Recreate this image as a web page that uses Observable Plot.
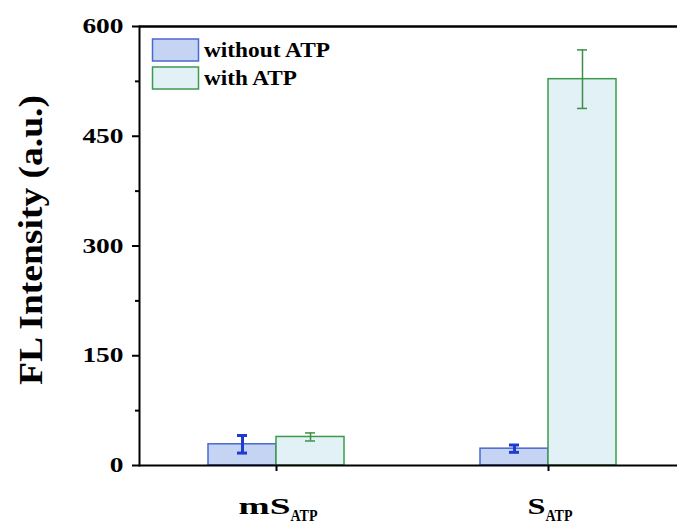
<!DOCTYPE html>
<html><head><meta charset="utf-8">
<style>body{margin:0;background:#fff} svg{display:block}</style>
<script src="https://cdn.jsdelivr.net/npm/d3@7"></script>
<script src="https://cdn.jsdelivr.net/npm/@observablehq/plot@0.6"></script>
</head><body><div id="chart"></div>
<script>
const groups = ["mS", "S"];
const groupSub = ["ATP", "ATP"];
const series = ["without ATP", "with ATP"];
const withoutATP = [29, 23];
const withoutATPErr = [12, 5];
const withATP = [39, 528];
const withATPErr = [5.5, 40];
const yTicks = [0, 150, 300, 450, 600];
const yMinor = [75, 225, 375, 525];
const yLabel = "FL Intensity (a.u.)";

const blueData = groups.map((g, i) => ({group: g, series: series[0], value: withoutATP[i], err: withoutATPErr[i]}));
const greenData = groups.map((g, i) => ({group: g, series: series[1], value: withATP[i], err: withATPErr[i]}));

const FONT = "'Liberation Serif', 'Times New Roman', serif";
const blueFill = "#c6d4f4", blueStroke = "#4a68d0", blueErr = "#1f3ccf";
const greenFill = "#e1f1f5", greenStroke = "#3d9a4b", greenErr = "#3d8f48";

const chart = Plot.plot({
  width: 677, height: 524,
  marginTop: 26, marginBottom: 59, marginLeft: 139, marginRight: 0,
  x: {type: "band", domain: groups, range: [140, 684], padding: 0, axis: null, label: null},
  y: {domain: [0, 600], axis: null, label: null},
  style: {fontFamily: FONT, fontWeight: "bold", background: "#fff", color: "#000"},
  marks: [
    Plot.barY(blueData, {x: "group", y: "value", fill: blueFill, stroke: blueStroke, strokeWidth: 1.5, insetLeft: 68, insetRight: 136}),
    Plot.barY(greenData, {x: "group", y: "value", fill: greenFill, stroke: greenStroke, strokeWidth: 1.5, insetLeft: 136, insetRight: 68}),
    Plot.ruleX(blueData, {x: "group", y1: d => d.value - d.err, y2: d => d.value + d.err, dx: -34, stroke: blueErr, strokeWidth: 3}),
    Plot.tickY(blueData, {x: "group", y: d => d.value + d.err, dx: -34, insetLeft: 131, insetRight: 131, stroke: blueErr, strokeWidth: 3}),
    Plot.tickY(blueData, {x: "group", y: d => d.value - d.err, dx: -34, insetLeft: 131, insetRight: 131, stroke: blueErr, strokeWidth: 3}),
    Plot.ruleX(greenData, {x: "group", y1: d => d.value - d.err, y2: d => d.value + d.err, dx: 34, stroke: greenErr, strokeWidth: 1.5}),
    Plot.tickY(greenData, {x: "group", y: d => d.value + d.err, dx: 34, insetLeft: 131, insetRight: 131, stroke: greenErr, strokeWidth: 1.5}),
    Plot.tickY(greenData, {x: "group", y: d => d.value - d.err, dx: 34, insetLeft: 131, insetRight: 131, stroke: greenErr, strokeWidth: 1.5}),
    Plot.ruleY([yTicks[yTicks.length - 1]], {strokeWidth: 2.5}),
    Plot.ruleY([0], {strokeWidth: 2}),
    Plot.frame({anchor: "left", strokeWidth: 2}),
    Plot.axisY(yTicks, {tickSize: 7, tickPadding: 9, fontSize: 21, strokeWidth: 2, fontFamily: FONT, fontWeight: "bold", label: null}),
    Plot.axisY(yMinor, {tickSize: 4, tickFormat: () => "", strokeWidth: 2, label: null}),
    Plot.axisX(groups, {tickSize: 6, tickFormat: () => "", strokeWidth: 2, label: null})
  ]
});
document.getElementById("chart").appendChild(chart);

const svg = d3.select(chart);
// stretch y tick labels to match the wide digits of the reference
svg.selectAll('g[aria-label="y-axis tick label"] text').each(function() {
  const t = d3.select(this);
  const n = (this.textContent || "").length;
  if (n) t.attr("textLength", 13.7 * n).attr("lengthAdjust", "spacingAndGlyphs");
});

// x labels with subscripts
const xs = chart.scale("x");
const mainLen = {"mS": 52, "S": 18};
groups.forEach((g, i) => {
  const cx = xs.apply(g) + xs.bandwidth / 2;
  const subLen = 27;
  const total = mainLen[g] + subLen;
  const t = svg.append("text")
    .attr("x", cx - total / 2 + 2).attr("y", 514)
    .attr("text-anchor", "start")
    .attr("font-family", FONT).attr("font-weight", "bold").attr("font-size", 24)
    .attr("fill", "#000");
  t.append("tspan").text(g).attr("textLength", mainLen[g]).attr("lengthAdjust", "spacingAndGlyphs");
  t.append("tspan").text(groupSub[i]).attr("font-size", 17).attr("dy", 7)
    .attr("textLength", subLen).attr("lengthAdjust", "spacingAndGlyphs");
});

// y label
svg.append("text")
  .attr("transform", "translate(42,240) rotate(-90)")
  .attr("text-anchor", "middle")
  .attr("font-family", FONT).attr("font-weight", "bold").attr("font-size", 34)
  .attr("fill", "#000")
  .attr("textLength", 290).attr("lengthAdjust", "spacingAndGlyphs")
  .text(yLabel);

// legend
const leg = [
  {name: series[0], fill: blueFill, stroke: blueStroke, len: 126},
  {name: series[1], fill: greenFill, stroke: greenStroke, len: 93}
];
leg.forEach((d, i) => {
  const y0 = 39 + i * 28;
  svg.append("rect").attr("x", 152.5).attr("y", y0).attr("width", 46).attr("height", 22)
    .attr("fill", d.fill).attr("stroke", d.stroke).attr("stroke-width", 1.5);
  svg.append("text").attr("x", 204).attr("y", y0 + 18)
    .attr("text-anchor", "start")
    .attr("font-family", FONT).attr("font-weight", "bold").attr("font-size", 22)
    .attr("fill", "#000")
    .attr("textLength", d.len).attr("lengthAdjust", "spacingAndGlyphs")
    .text(d.name);
});
</script>
</body></html>
